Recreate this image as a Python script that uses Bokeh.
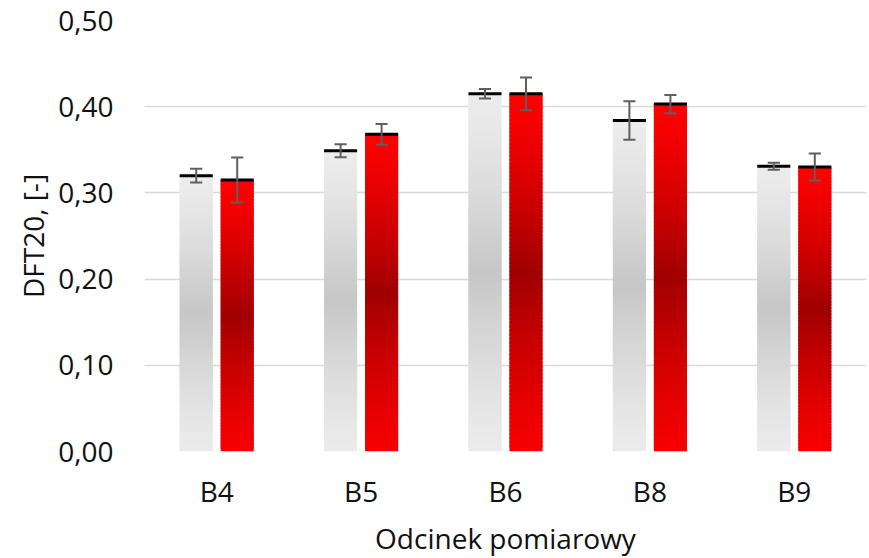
from bokeh.plotting import figure
from bokeh.models import ColumnDataSource, FactorRange, Range1d, FixedTicker, CustomJSTickFormatter
from bokeh.transform import dodge
from bokeh.embed import file_html
from bokeh.resources import INLINE

# ---- data ----
categories = ["B4", "B5", "B6", "B8", "B9"]
grey_values = [0.320, 0.349, 0.415, 0.384, 0.331]
grey_errors = [0.008, 0.0075, 0.0056, 0.0224, 0.004]
red_values = [0.315, 0.368, 0.415, 0.403, 0.330]
red_errors = [0.026, 0.012, 0.019, 0.0107, 0.0157]
y_ticks = [0.0, 0.1, 0.2, 0.3, 0.4, 0.5]

FONT = "Open Sans"
BAR_W = 0.229
OFF = 0.142
CAP = 0.084
N_SLICES = 90

p = figure(frame_width=722, frame_height=431, x_range=FactorRange(*categories), y_range=Range1d(0, 0.5),
           output_backend="svg", toolbar_location=None,
           min_border_left=144, min_border_right=3, min_border_top=20, min_border_bottom=107)
p.outline_line_color = None
p.background_fill_color = "white"
p.border_fill_color = "white"


def mix(c1, c2, t):
    return "#%02x%02x%02x" % tuple(int(round(a + (b - a) * t)) for a, b in zip(c1, c2))


def gradient_source(vals, light_top, dark, light_bottom):
    xs, bots, tops, cols = [], [], [], []
    for c, v in zip(categories, vals):
        for i in range(N_SLICES):
            f = (i + 0.5) / N_SLICES
            if f < 0.5:
                t = (f / 0.5) ** 1.3
                col = mix(light_bottom, dark, t)
            else:
                t = ((1 - f) / 0.5) ** 1.3
                col = mix(light_top, dark, t)
            xs.append(c)
            bots.append(v * i / N_SLICES)
            tops.append(v * min(i + 1.8, N_SLICES) / N_SLICES)
            cols.append(col)
    return ColumnDataSource(dict(x=xs, bottom=bots, top=tops, color=cols))


series = [
    (grey_values, grey_errors, -OFF, (236, 236, 236), (198, 198, 198), (235, 235, 235)),
    (red_values, red_errors, OFF, (255, 0, 0), (160, 0, 0), (246, 0, 0)),
]

for vals, errs, off, lt, dk, lb in series:
    src = gradient_source(vals, lt, dk, lb)
    p.vbar(x=dodge("x", off, range=p.x_range), width=BAR_W, bottom="bottom", top="top",
           fill_color="color", line_color=None, source=src)

for vals, errs, off, lt, dk, lb in series:
    s = ColumnDataSource(dict(x=categories, v=vals,
                              lo=[v - e for v, e in zip(vals, errs)],
                              hi=[v + e for v, e in zip(vals, errs)]))
    # black top line
    p.segment(x0=dodge("x", off - BAR_W / 2, range=p.x_range), x1=dodge("x", off + BAR_W / 2, range=p.x_range),
              y0="v", y1="v", line_color="black", line_width=3, line_cap="butt", source=s)
    # error bars
    p.segment(x0=dodge("x", off, range=p.x_range), x1=dodge("x", off, range=p.x_range),
              y0="lo", y1="hi", line_color="#5f5f5f", line_width=2, source=s)
    for key in ("lo", "hi"):
        p.segment(x0=dodge("x", off - CAP / 2, range=p.x_range), x1=dodge("x", off + CAP / 2, range=p.x_range),
                  y0=key, y1=key, line_color="#5f5f5f", line_width=2, source=s)

# axes
p.yaxis.ticker = FixedTicker(ticks=y_ticks)
p.yaxis.formatter = CustomJSTickFormatter(code="return tick.toFixed(2).replace('.', ',');")
p.ygrid.ticker = FixedTicker(ticks=y_ticks)
p.ygrid.grid_line_color = "#d9d9d9"
p.ygrid.grid_line_width = 1.5
p.xgrid.grid_line_color = None

for ax in (p.xaxis, p.yaxis):
    ax.axis_line_color = None
    ax.major_tick_line_color = None
    ax.minor_tick_line_color = None
    ax.major_tick_out = 0
    ax.major_tick_in = 0
    ax.major_label_text_font = FONT
    ax.major_label_text_font_size = "28px"
    ax.major_label_text_color = "#111111"
    ax.axis_label_text_font = FONT
    ax.axis_label_text_font_size = "28px"
    ax.axis_label_text_font_style = "normal"
    ax.axis_label_text_color = "#111111"

p.yaxis.axis_label = "DFT20, [-]"
p.yaxis.major_label_standoff = 31
p.yaxis.axis_label_standoff = 3
p.xaxis.axis_label = "Odcinek pomiarowy"
p.xaxis.major_label_standoff = 20
p.xaxis.axis_label_standoff = 6

open("out.html", "w").write(file_html(p, INLINE))
